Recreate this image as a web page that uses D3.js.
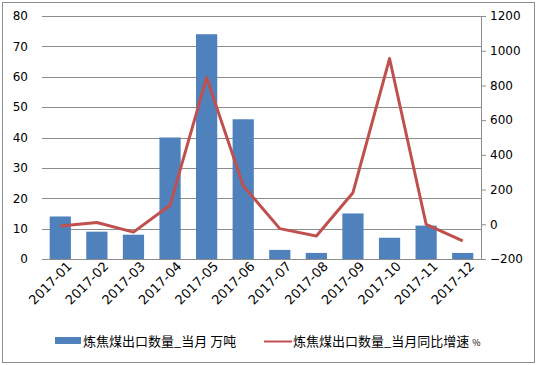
<!DOCTYPE html>
<meta charset="utf-8">
<title>炼焦煤出口数量</title>
<style>
body { margin: 0; background: #fff; }
svg { font-family: "DejaVu Sans", Verdana, "Noto Sans CJK SC", sans-serif; }
.grid line { stroke: #8c8c8c; stroke-width: 1; }
.axis text { font-family: "DejaVu Sans", sans-serif; font-size: 12px; fill: #000; }
.axis--x text { font-size: 13px; }
.axis--x path, .axis--x line { display: none; }
.axis--y path, .axis--y line { display: none; }
.axis--y2 path, .axis--y2 line { stroke: #8c8c8c; }
.legend text { font-family: "Noto Sans CJK SC", sans-serif; font-size: 13px; }
</style>
<body>
<svg width="537" height="365"></svg>
<script src="https://cdn.jsdelivr.net/npm/d3@7/dist/d3.min.js"></script>
<script>

var months = ["2017-01","2017-02","2017-03","2017-04","2017-05","2017-06",
              "2017-07","2017-08","2017-09","2017-10","2017-11","2017-12"];
var volume = [14, 9, 8, 40, 74, 46, 3, 2, 15, 7, 11, 2];
var growth = [-10, 10, -45, 110, 845, 222, -25, -67, 182, 955, 0, -96];
var leftTicks = [0, 10, 20, 30, 40, 50, 60, 70, 80];
var rightTicks = [-200, 0, 200, 400, 600, 800, 1000, 1200];

var svg = d3.select("svg"),
    margin = {top: 16, right: 56, bottom: 106, left: 42},
    width = +svg.attr("width") - margin.left - margin.right,
    height = +svg.attr("height") - margin.top - margin.bottom;

// outer frame
svg.append("rect")
    .attr("x", 2.5).attr("y", 2.5)
    .attr("width", 532).attr("height", 360)
    .attr("fill", "none").attr("stroke", "#8c8c8c");

var g = svg.append("g")
    .attr("transform", "translate(" + margin.left + "," + margin.top + ")");

var x = d3.scaleBand().domain(months).range([0, width]).paddingInner(0.42).paddingOuter(0.21);
var y = d3.scaleLinear().domain([0, 80]).range([height, 0]);
var y2 = d3.scaleLinear().domain([-200, 1200]).range([height, 0]);

// grid lines
g.append("g").attr("class", "grid")
  .selectAll("line").data(leftTicks).enter().append("line")
    .attr("x1", 0).attr("x2", width)
    .attr("y1", function(d) { return Math.round(y(d)) + 0.5; })
    .attr("y2", function(d) { return Math.round(y(d)) + 0.5; });

// bars
g.selectAll(".bar")
  .data(volume)
  .enter().append("rect")
    .attr("class", "bar")
    .attr("fill", "#4F81BD")
    .attr("x", function(d, i) { return x(months[i]); })
    .attr("y", function(d) { return y(d); })
    .attr("width", x.bandwidth())
    .attr("height", function(d) { return height - y(d); });

// growth line
var line = d3.line()
    .x(function(d, i) { return x(months[i]) + x.bandwidth() / 2; })
    .y(function(d) { return y2(d); });

g.append("path")
    .datum(growth)
    .attr("fill", "none")
    .attr("stroke", "#C0504D")
    .attr("stroke-width", 3)
    .attr("stroke-linejoin", "round")
    .attr("d", line);

// left axis
g.append("g")
    .attr("class", "axis axis--y")
    .call(d3.axisLeft(y).tickValues(leftTicks).tickSize(0).tickPadding(14));

// right axis
g.append("g")
    .attr("class", "axis axis--y2")
    .attr("transform", "translate(" + width + ",0)")
    .call(d3.axisRight(y2).tickValues(rightTicks).tickFormat(d3.format("d"))
          .tickSizeInner(5).tickSizeOuter(0).tickPadding(4));

// x axis
g.append("g")
    .attr("class", "axis axis--x")
    .attr("transform", "translate(0," + height + ")")
    .call(d3.axisBottom(x).tickSize(0))
  .selectAll("text")
    .attr("x", 3)
    .attr("y", 10)
    .attr("dy", "0.35em")
    .attr("transform", "rotate(-45)")
    .style("text-anchor", "end");

// legend
var legend = svg.append("g").attr("class", "legend").attr("transform", "translate(0,341)");
legend.append("rect")
    .attr("x", 55).attr("y", -4).attr("width", 26).attr("height", 7)
    .attr("fill", "#4F81BD");
legend.append("text")
    .attr("x", 83).attr("y", 0).attr("dy", "0.35em")
    .text("炼焦煤出口数量_当月 万吨");
legend.append("line")
    .attr("x1", 264).attr("x2", 292).attr("y1", 0.5).attr("y2", 0.5)
    .attr("stroke", "#C0504D").attr("stroke-width", 2);
var t2 = legend.append("text")
    .attr("x", 293).attr("y", 0).attr("dy", "0.35em");
t2.append("tspan").text("炼焦煤出口数量_当月同比增速 ");
t2.append("tspan").style("font-size", "9px").text(" %");

</script>
</body>
